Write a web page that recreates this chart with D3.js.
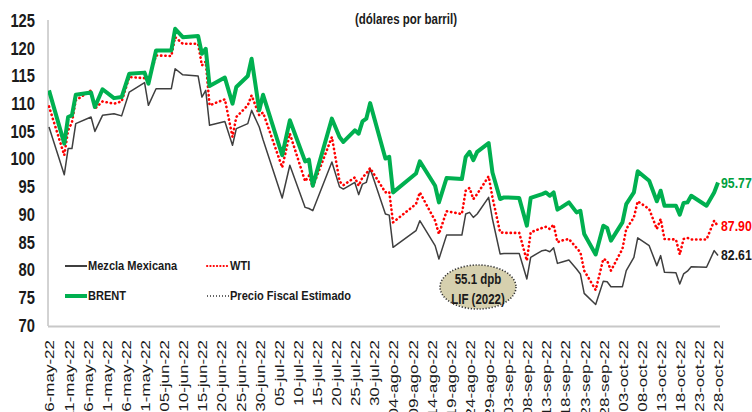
<!DOCTYPE html>
<html><head><meta charset="utf-8">
<script src="https://cdn.jsdelivr.net/npm/d3@7"></script>
<style>body{margin:0;background:#fff} svg{display:block}</style>
</head><body><svg id="c" width="752" height="412"></svg>
<script>
const dates = [
"2022-05-06","2022-05-10","2022-05-11","2022-05-12","2022-05-13","2022-05-17","2022-05-18","2022-05-20","2022-05-23","2022-05-25","2022-05-27","2022-05-31",
"2022-06-01","2022-06-03","2022-06-07","2022-06-08","2022-06-10","2022-06-14","2022-06-15","2022-06-16","2022-06-17","2022-06-21","2022-06-23","2022-06-24","2022-06-27","2022-06-28","2022-06-30",
"2022-07-01","2022-07-06","2022-07-08","2022-07-12","2022-07-13","2022-07-14","2022-07-19","2022-07-21","2022-07-22","2022-07-25","2022-07-26","2022-07-27","2022-07-28","2022-07-29",
"2022-08-02","2022-08-03","2022-08-04","2022-08-10","2022-08-11","2022-08-15","2022-08-16","2022-08-18","2022-08-22","2022-08-23","2022-08-24","2022-08-25","2022-08-26","2022-08-29","2022-08-30",
"2022-09-01","2022-09-02","2022-09-06","2022-09-08","2022-09-09","2022-09-12","2022-09-13","2022-09-14","2022-09-15","2022-09-16","2022-09-17","2022-09-19","2022-09-21","2022-09-22","2022-09-23","2022-09-26","2022-09-28","2022-09-29","2022-09-30",
"2022-10-03","2022-10-04","2022-10-06","2022-10-07","2022-10-10","2022-10-12","2022-10-13","2022-10-14","2022-10-17","2022-10-18","2022-10-19","2022-10-20","2022-10-21","2022-10-25","2022-10-27","2022-10-28"
];
const brent = [
112.4,102.8,107.6,107.9,111.6,112.0,109.4,112.6,111.0,111.2,115.4,115.6,
113.6,119.6,119.6,123.5,122.0,122.2,119.0,119.9,113.2,114.7,110.0,113.0,115.0,118.1,108.8,
111.6,100.7,107.0,99.6,99.9,95.2,107.3,104.0,103.1,105.2,104.6,106.8,107.3,110.1,
100.1,100.4,94.0,97.4,99.6,95.2,92.2,96.6,96.4,100.4,101.3,99.8,101.3,102.9,97.6,
92.8,93.1,93.0,88.0,93.0,93.7,94.0,93.4,94.0,90.9,91.3,92.2,90.4,90.7,86.5,82.8,88.0,87.6,85.3,
88.6,91.9,94.0,97.8,96.1,92.4,94.3,91.6,91.6,90.0,92.1,92.2,93.4,91.6,94.0,95.77
];
const wti = [
109.5,100.7,105.2,106.6,110.6,112.4,109.1,110.4,110.0,110.4,114.8,114.6,
113.9,118.7,118.6,122.0,120.8,120.8,116.9,117.6,109.7,110.8,104.0,107.6,109.7,111.5,107.9,
108.4,98.5,104.6,96.0,97.0,95.0,104.0,96.0,95.3,96.7,95.2,96.7,97.4,98.4,
94.0,94.1,88.6,91.9,94.0,88.9,86.5,90.6,90.1,94.3,94.8,92.8,93.7,96.9,93.1,
86.8,86.7,86.7,81.7,86.8,87.6,87.8,87.4,88.2,85.0,85.3,85.6,84.0,83.2,79.9,76.4,82.0,81.7,79.9,
83.8,87.4,89.5,92.4,91.0,87.4,89.2,85.6,85.5,82.8,85.6,85.8,85.5,85.5,88.9,87.90
];
const mezcla = [
105.8,97.2,101.9,101.9,106.4,107.6,105.0,107.9,108.2,107.8,112.1,113.8,
109.7,112.7,112.7,116.3,115.2,115.0,111.2,112.4,106.1,106.8,102.5,105.5,106.4,108.8,105.8,
103.5,93.0,98.9,91.3,91.1,90.7,99.5,95.0,94.6,95.8,93.6,95.5,95.8,98.3,
90.1,89.9,84.1,87.1,88.9,84.4,82.0,86.3,86.3,90.1,90.4,89.5,90.1,93.1,89.2,
82.9,83.0,83.0,78.4,82.3,83.5,83.6,83.3,84.0,81.2,81.4,81.8,80.2,79.3,75.8,73.8,78.0,77.9,77.0,
77.0,79.9,82.3,85.8,84.4,80.8,82.6,79.6,79.5,77.5,79.3,79.8,80.6,80.5,83.5,82.61
];
const precioFiscal = 55.1;
const yTicks = [70,75,80,85,90,95,100,105,110,115,120,125];
const xTickLabels = ["06-may-22","11-may-22","16-may-22","21-may-22","26-may-22","31-may-22","05-jun-22","10-jun-22","15-jun-22","20-jun-22","25-jun-22","30-jun-22","05-jul-22","10-jul-22","15-jul-22","20-jul-22","25-jul-22","30-jul-22","04-ago-22","09-ago-22","14-ago-22","19-ago-22","24-ago-22","29-ago-22","03-sep-22","08-sep-22","13-sep-22","18-sep-22","23-sep-22","28-sep-22","03-oct-22","08-oct-22","13-oct-22","18-oct-22","23-oct-22","28-oct-22"];
const seriesNames = ["Mezcla Mexicana","WTI","BRENT","Precio Fiscal Estimado"];
const title = "(dólares por barril)";
const noteLines = ["55.1 dpb","LIF (2022)"];

const svg = d3.select("#c");
const FONT = "'Liberation Sans',Arial,sans-serif";
const SX = 0.82; // horizontal condensing of text
const parse = d3.timeParse("%Y-%m-%d");
const months = {may:4,jun:5,jul:6,ago:7,sep:8,oct:9};
const tickDates = xTickLabels.map(s => { const p = s.split("-"); return new Date(2000 + +p[2], months[p[1]], +p[0]); });
const dts = dates.map(parse);

const L = 48, R = 720, T = 20, B = 326;
const x = d3.scaleTime().domain([tickDates[0], tickDates[tickDates.length-1]]).range([49, 718]);
const y = d3.scaleLinear().domain([70,125]).range([325.5, 20.5]);

function ctext(px, py, str, opts) {
  const t = svg.append("text").attr("transform",`translate(${px},${py}) scale(${SX},1)`)
    .attr("font-family",FONT).attr("font-weight","bold").attr("fill","#1a1a1a").text(str);
  Object.entries(opts||{}).forEach(([k,v])=>t.attr(k,v));
  return t;
}

svg.append("defs").append("clipPath").attr("id","plot")
  .append("rect").attr("x",L).attr("y",T-10).attr("width",R-L+5).attr("height",B-T+10);

// axes lines
svg.append("line").attr("x1",L).attr("x2",L).attr("y1",T).attr("y2",B).attr("stroke","#a6a6a6").attr("stroke-width",1);
svg.append("line").attr("x1",L).attr("x2",R).attr("y1",B+0.5).attr("y2",B+0.5).attr("stroke","#c8c8c8").attr("stroke-width",2);

// y axis labels
const ya = svg.append("g").attr("transform",`translate(${L},0)`)
  .call(d3.axisLeft(y).tickValues(yTicks).tickSize(0).tickPadding(13));
ya.select(".domain").remove();
ya.selectAll("text").attr("x", -13/SX).attr("transform",`scale(${SX},1)`)
  .attr("font-family",FONT).attr("font-weight","bold").attr("font-size",18).attr("fill","#1a1a1a");

// x axis labels
const xa = svg.append("g").attr("transform",`translate(0,${B})`)
  .call(d3.axisBottom(x).tickValues(tickDates).tickFormat((d,i)=>xTickLabels[i]).tickSize(0));
xa.select(".domain").remove();
xa.selectAll("text").attr("x",0).attr("y",0).attr("dy","0.36em").attr("text-anchor","end")
  .attr("transform","translate(0,14) scale(0.8,1) rotate(-90)")
  .attr("font-family",FONT).attr("font-size",17).attr("fill","#1a1a1a");

const line = vals => d3.line().x((d,i)=>x(dts[i])).y(d=>y(d))(vals);
const g = svg.append("g").attr("clip-path","url(#plot)");
g.append("path").attr("d",line(mezcla)).attr("fill","none").attr("stroke","#3f3f3f").attr("stroke-width",1.5).attr("stroke-linejoin","round");
g.append("path").attr("d",line(wti)).attr("fill","none").attr("stroke","#ff0000").attr("stroke-width",2.6)
  .attr("stroke-dasharray","0.3 4").attr("stroke-linecap","round");
g.append("path").attr("d",line(brent)).attr("fill","none").attr("stroke","#00b050").attr("stroke-width",4).attr("stroke-linejoin","round");
g.append("path").attr("d",d3.line().x(d=>x(d)).y(()=>y(precioFiscal))([tickDates[0],tickDates[tickDates.length-1]]))
  .attr("fill","none").attr("stroke","#000").attr("stroke-width",1.5).attr("stroke-dasharray","1 2");

// end labels
const last = dts.length-1;
[[brent,"#00a040"],[wti,"#ff0000"],[mezcla,"#1a1a1a"]].forEach(([v,c])=>{
  ctext(x(dts[last])+3, y(v[last]), v[last].toFixed(2), {"font-size":15,"fill":c,"dominant-baseline":"central"});
});

// title
ctext(406, 23.5, title, {"font-size":14,"text-anchor":"middle"});

// legend
const leg = [
  {n:seriesNames[0], x:65, y:266, st:{stroke:"#3f3f3f","stroke-width":2}},
  {n:seriesNames[1], x:207, y:266, st:{stroke:"#ff0000","stroke-width":2,"stroke-dasharray":"0.3 3","stroke-linecap":"round"}},
  {n:seriesNames[2], x:65, y:296, st:{stroke:"#00b050","stroke-width":4}},
  {n:seriesNames[3], x:207, y:296, st:{stroke:"#333","stroke-width":1.5,"stroke-dasharray":"1 2"}}
];
leg.forEach(l=>{
  const ln = svg.append("line").attr("x1",l.x).attr("x2",l.x+22).attr("y1",l.y).attr("y2",l.y);
  Object.entries(l.st).forEach(([k,v])=>ln.attr(k,v));
  ctext(l.x+23, l.y, l.n, {"font-size":13.5,"dominant-baseline":"central"});
});

// annotation ellipse
svg.append("ellipse").attr("cx",478).attr("cy",287).attr("rx",38).attr("ry",22)
  .attr("fill","#d6d0ae").attr("stroke","#333").attr("stroke-width",1.6).attr("stroke-dasharray","1.2 1.8");
noteLines.forEach((t,i)=>{
  ctext(478, 279+i*20, t, {"font-size":14,"text-anchor":"middle","dominant-baseline":"central"});
});
</script></body></html>
